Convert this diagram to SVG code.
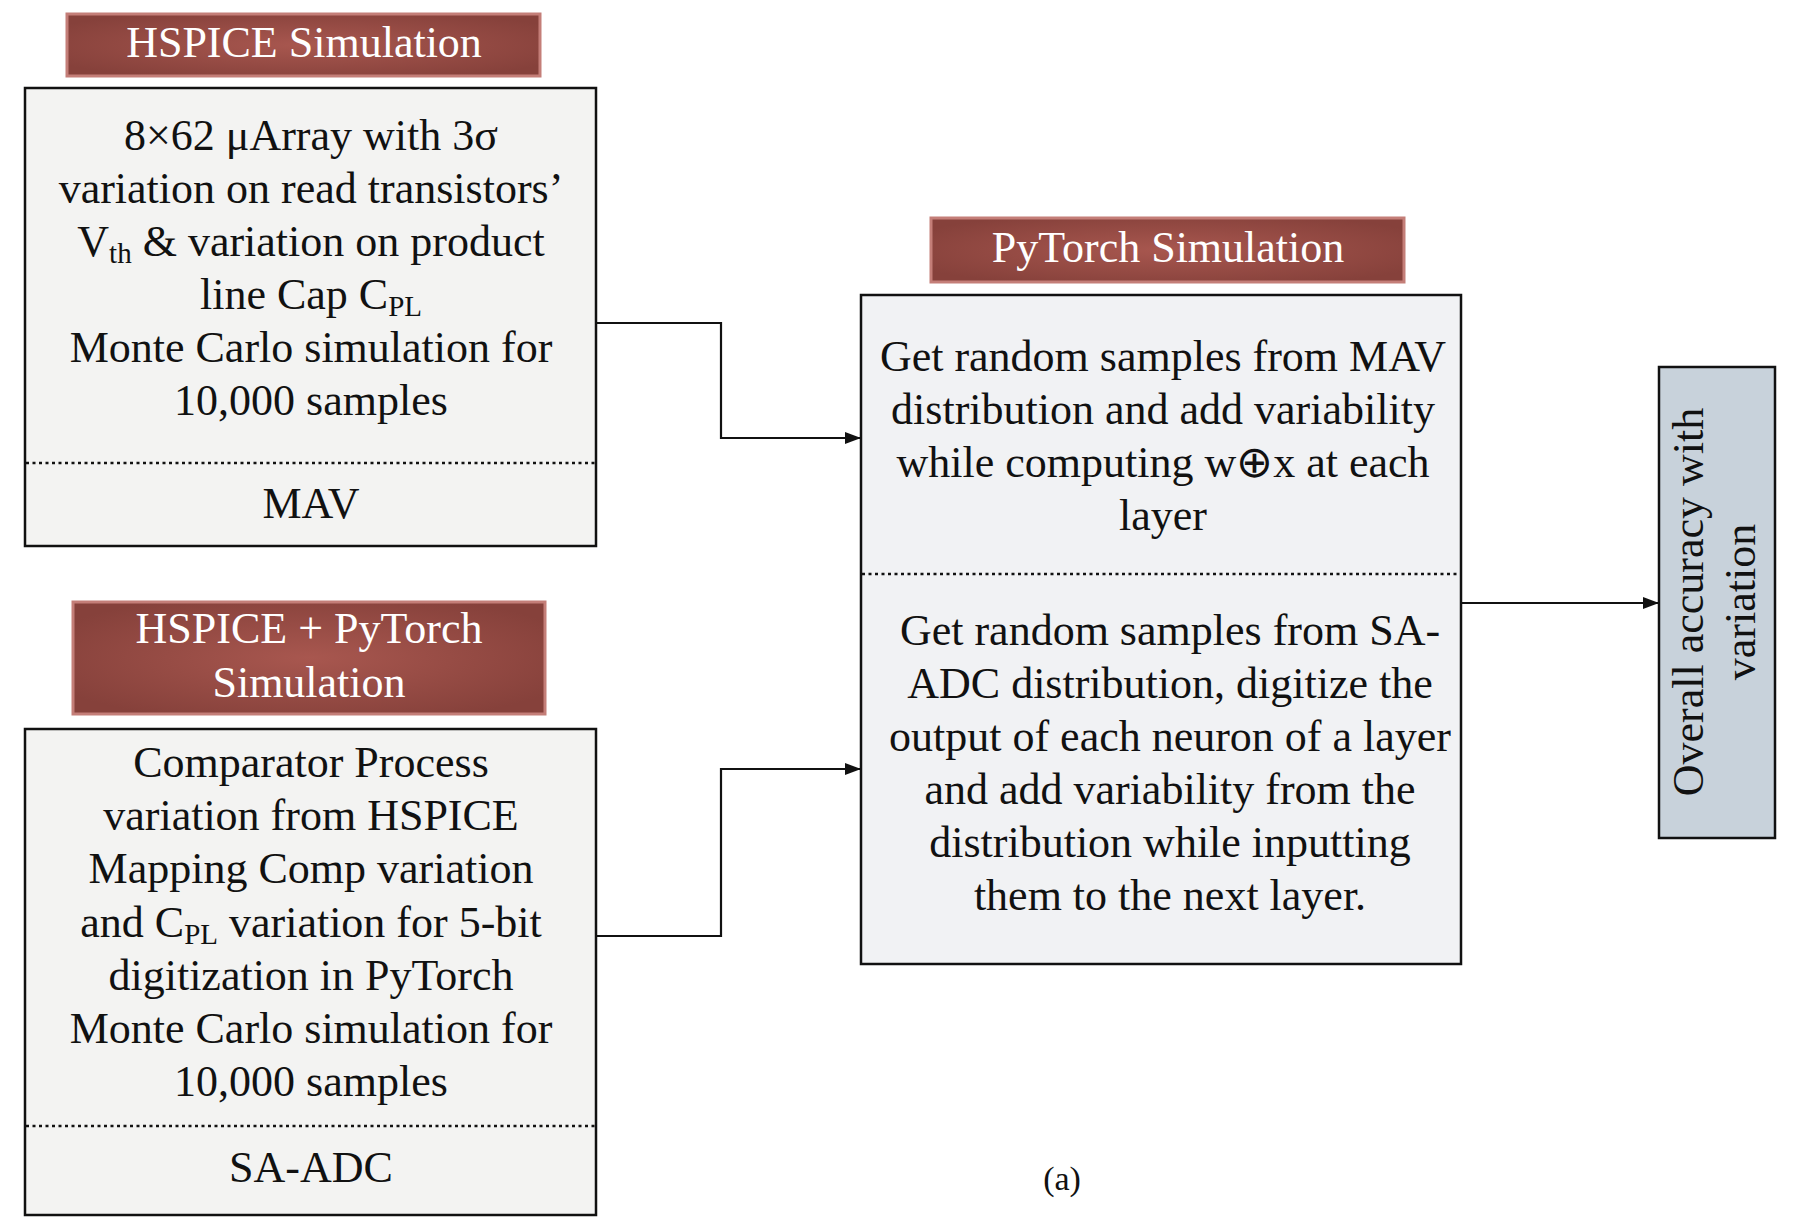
<svg xmlns="http://www.w3.org/2000/svg" width="1796" height="1220" viewBox="0 0 1796 1220">
<style>
text{font-family:"Liberation Serif","Times New Roman",serif;font-size:44px;fill:#111;}
.t{fill:#fff;text-anchor:middle;}
.c{text-anchor:middle;}
.box{fill:#f3f3f2;stroke:#111;stroke-width:2.5;}
.rbox{fill:#f1f2f4;stroke:#111;stroke-width:2.5;}
.gbox{fill:#c8d2db;stroke:#111;stroke-width:2.5;}
.ttl{fill:url(#rg);stroke:#c47e78;stroke-width:3;}
.dot{stroke:#111;stroke-width:2.5;stroke-dasharray:3 3.5;fill:none;}
.con{fill:none;stroke:#111;stroke-width:2.2;}
.sub{font-size:29px;}
</style>
<defs>
<radialGradient id="rg" cx="50%" cy="50%" r="60%">
<stop offset="0" stop-color="#a8574f"/>
<stop offset="1" stop-color="#86413b"/>
</radialGradient>
<marker id="ah" markerWidth="16" markerHeight="12" refX="15" refY="6" orient="auto" markerUnits="userSpaceOnUse">
<path d="M0,0 L16,6 L0,12 Z" fill="#111"/>
</marker>
</defs>
<rect width="1796" height="1220" fill="#fff"/>

<g id="title-hspice">
<rect class="ttl" x="67" y="14" width="473" height="62"/>
<text class="t" x="304" y="57">HSPICE Simulation</text>
</g>

<g id="box-mav">
<rect class="box" x="25" y="88" width="571" height="458"/>
<text class="c" x="311" y="150">8×62 μArray with 3σ</text>
<text class="c" x="311" y="203">variation on read transistors’</text>
<text class="c" x="311" y="256">V<tspan class="sub" dy="7">th</tspan><tspan dy="-7"> &amp; variation on product</tspan></text>
<text class="c" x="311" y="309">line Cap C<tspan class="sub" dy="7">PL</tspan></text>
<text class="c" x="311" y="362">Monte Carlo simulation for</text>
<text class="c" x="311" y="415">10,000 samples</text>
<line class="dot" x1="26" y1="463" x2="595" y2="463"/>
<text class="c" x="311" y="518">MAV</text>
</g>

<g id="title-hspice-pytorch">
<rect class="ttl" x="73" y="602" width="472" height="112"/>
<text class="t" x="309" y="643">HSPICE + PyTorch</text>
<text class="t" x="309" y="697">Simulation</text>
</g>

<g id="box-saadc">
<rect class="box" x="25" y="729" width="571" height="486"/>
<text class="c" x="311" y="777">Comparator Process</text>
<text class="c" x="311" y="830">variation from HSPICE</text>
<text class="c" x="311" y="883">Mapping Comp variation</text>
<text class="c" x="311" y="937">and C<tspan class="sub" dy="7">PL</tspan><tspan dy="-7"> variation for 5-bit</tspan></text>
<text class="c" x="311" y="990">digitization in PyTorch</text>
<text class="c" x="311" y="1043">Monte Carlo simulation for</text>
<text class="c" x="311" y="1096">10,000 samples</text>
<line class="dot" x1="26" y1="1126" x2="595" y2="1126"/>
<text class="c" x="311" y="1182">SA-ADC</text>
</g>

<g id="title-pytorch">
<rect class="ttl" x="931" y="218" width="473" height="64"/>
<text class="t" x="1168" y="262">PyTorch Simulation</text>
</g>

<g id="box-pytorch">
<rect class="rbox" x="861" y="295" width="600" height="669"/>
<text class="c" x="1163" y="371">Get random samples from MAV</text>
<text class="c" x="1163" y="424">distribution and add variability</text>
<text class="c" x="1163" y="477">while computing w⊕x at each</text>
<text class="c" x="1163" y="530">layer</text>
<line class="dot" x1="862" y1="574" x2="1460" y2="574"/>
<text class="c" x="1170" y="645">Get random samples from SA-</text>
<text class="c" x="1170" y="698">ADC distribution, digitize the</text>
<text class="c" x="1170" y="751">output of each neuron of a layer</text>
<text class="c" x="1170" y="804">and add variability from the</text>
<text class="c" x="1170" y="857">distribution while inputting</text>
<text class="c" x="1170" y="910">them to the next layer.</text>
</g>

<g id="box-accuracy">
<rect class="gbox" x="1659" y="367" width="116" height="471"/>
<text class="c" transform="translate(1703,602) rotate(-90)">Overall accuracy with</text>
<text class="c" transform="translate(1755,602) rotate(-90)">variation</text>
</g>

<g id="connectors">
<polyline class="con" points="596,323 721,323 721,438 860,438" marker-end="url(#ah)"/>
<polyline class="con" points="596,936 721,936 721,769 860,769" marker-end="url(#ah)"/>
<line class="con" x1="1461" y1="603" x2="1658" y2="603" marker-end="url(#ah)"/>
</g>

<text id="caption" class="c" x="1062" y="1190" style="font-size:34px">(a)</text>
</svg>
